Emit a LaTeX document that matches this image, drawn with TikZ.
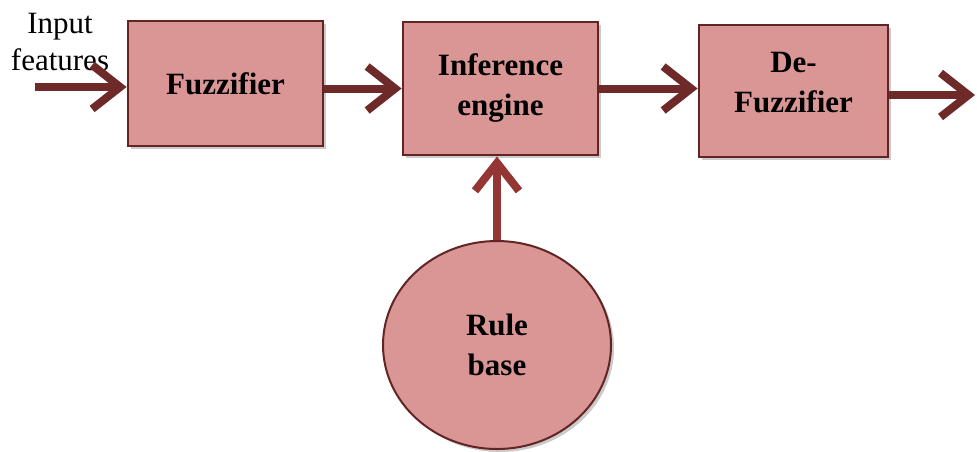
\documentclass[tikz,border=0pt]{standalone}
\usepackage{fontspec}
\setmainfont{Liberation Serif}
\usetikzlibrary{arrows.meta,shapes.geometric,shadows,calc}
\definecolor{boxfill}{HTML}{D99694}
\definecolor{boxline}{HTML}{632523}
\definecolor{arrowdark}{HTML}{6E2A29}
\definecolor{arrowlight}{HTML}{943634}
\begin{document}
\begin{tikzpicture}[x=0.5pt,y=-0.5pt,
  blk/.style={draw=boxline, fill=boxfill, line width=1.4pt, align=center,
    font=\fontsize{15.5}{20}\selectfont\bfseries,
    drop shadow={shadow xshift=1.5pt, shadow yshift=-1.5pt, opacity=0.35, fill=black!60}},
  lbl/.style={align=center, font=\fontsize{15.5}{20}\selectfont\bfseries},
  flow/.style={draw=arrowdark, line width=4pt,
    -{Straight Barb[length=14pt,width=22pt,line width=4pt]}},
  flowup/.style={flow, draw=arrowlight}]
\useasboundingbox (0,0) rectangle (977,451);
\node[blk, minimum width=97.5pt, minimum height=62.5pt] (fuzz) at (225.5,83.5) {Fuzzifier};
\node[blk, minimum width=97.5pt, minimum height=66.5pt] (inf) at (500.5,88.5) {Inference\\engine};
\node[blk, minimum width=94.5pt, minimum height=66pt] (defz) at (793.5,91) {};
\node[lbl] (defzt) at (793.5,83) {De-\\Fuzzifier};
\node[blk, ellipse, line width=1pt, minimum width=114pt, minimum height=104pt, inner sep=0pt] (rule) at (497,345) {Rule\\base};
\node[align=center, font=\fontsize{15.5}{18.5}\selectfont] (lab) at (60,42) {Input\\features};
\coordinate (in) at (35,87);
\coordinate (out) at (975,95);
\draw[flow] (in) -- (in -| fuzz.west);
\draw[flow] (fuzz.east |- inf.west) -- (inf.west);
\draw[flow] (inf.east) -- (inf.east -| defz.west);
\draw[flow] (defz.east |- out) -- (out);
\draw[flowup] (rule.north) -- (rule.north |- inf.south);
\end{tikzpicture}
\end{document}
